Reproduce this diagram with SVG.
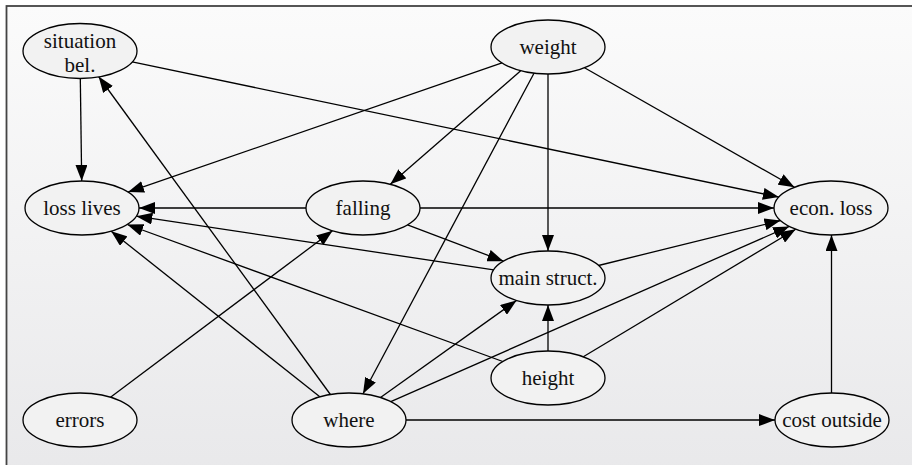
<svg xmlns="http://www.w3.org/2000/svg" width="912" height="465" viewBox="0 0 912 465">
<defs>
<linearGradient id="bg" x1="0" y1="0" x2="0" y2="1">
<stop offset="0" stop-color="#fbfbfb"/>
<stop offset="1" stop-color="#e8e8ea"/>
</linearGradient>
<marker id="ah" markerUnits="userSpaceOnUse" viewBox="0 -6 16 12" markerWidth="16" markerHeight="12" refX="16" refY="0" orient="auto">
<path d="M0,-6 L16,0 L0,6 z" fill="#000"/>
</marker>
<style>
.n ellipse{fill:#f2f2f2;stroke:#000;stroke-width:1.3}
.n text{font-family:"Liberation Serif","Times New Roman",serif;font-size:21px;text-anchor:middle;fill:#111}
#edges line{stroke:#000;stroke-width:1.3;marker-end:url(#ah)}
</style>
</defs>
<rect x="6.5" y="6" width="920" height="480" fill="url(#bg)" stroke="#444" stroke-width="1.8"/>
<g id="edges">
<line x1="80.3" y1="78" x2="81.7" y2="181"/>
<line x1="132.2" y1="61.9" x2="778.9" y2="197.1"/>
<line x1="502" y1="62.9" x2="128" y2="192.1"/>
<line x1="520.7" y1="70.7" x2="390.3" y2="184.3"/>
<line x1="534" y1="73.2" x2="363" y2="393.8"/>
<line x1="548" y1="74" x2="548" y2="251"/>
<line x1="584.5" y1="67.7" x2="794.5" y2="187.3"/>
<line x1="306" y1="208" x2="139" y2="208"/>
<line x1="420" y1="208" x2="774" y2="208"/>
<line x1="407.5" y1="224.9" x2="503.5" y2="261.2"/>
<line x1="493.7" y1="269.8" x2="136.3" y2="216.2"/>
<line x1="598.5" y1="265.5" x2="780.5" y2="220.5"/>
<line x1="502.8" y1="361.5" x2="127.2" y2="224.5"/>
<line x1="548" y1="351" x2="548" y2="305"/>
<line x1="583.3" y1="356.8" x2="795.7" y2="229.2"/>
<line x1="330.4" y1="394.5" x2="98.6" y2="76.5"/>
<line x1="319.8" y1="396.8" x2="111.2" y2="231.2"/>
<line x1="380.5" y1="397.5" x2="516.5" y2="300.5"/>
<line x1="390.8" y1="401.6" x2="789.2" y2="226.4"/>
<line x1="406" y1="420" x2="775" y2="420"/>
<line x1="110.5" y1="397.2" x2="332.5" y2="230.8"/>
<line x1="831.5" y1="393" x2="831.5" y2="235"/>
</g>
<g id="situation_bel" class="n"><ellipse cx="80" cy="51" rx="57" ry="27.5"/><text x="80" y="47.5">situation</text><text x="80" y="71.5">bel.</text></g>
<g id="weight" class="n"><ellipse cx="548" cy="47" rx="57" ry="27"/><text x="548" y="54">weight</text></g>
<g id="loss_lives" class="n"><ellipse cx="82" cy="208" rx="57" ry="27"/><text x="82" y="215">loss lives</text></g>
<g id="falling" class="n"><ellipse cx="363" cy="208" rx="57" ry="27"/><text x="363" y="215">falling</text></g>
<g id="econ_loss" class="n"><ellipse cx="831" cy="208" rx="57" ry="27"/><text x="831" y="215">econ. loss</text></g>
<g id="main_struct" class="n"><ellipse cx="548" cy="278" rx="57" ry="27"/><text x="548" y="285">main struct.</text></g>
<g id="height" class="n"><ellipse cx="548" cy="378" rx="57" ry="27"/><text x="548" y="385">height</text></g>
<g id="errors" class="n"><ellipse cx="80" cy="420" rx="57" ry="27"/><text x="80" y="427">errors</text></g>
<g id="where" class="n"><ellipse cx="349" cy="420" rx="57" ry="27"/><text x="349" y="427">where</text></g>
<g id="cost_outside" class="n"><ellipse cx="832" cy="420" rx="57" ry="27"/><text x="832" y="427">cost outside</text></g>
</svg>
